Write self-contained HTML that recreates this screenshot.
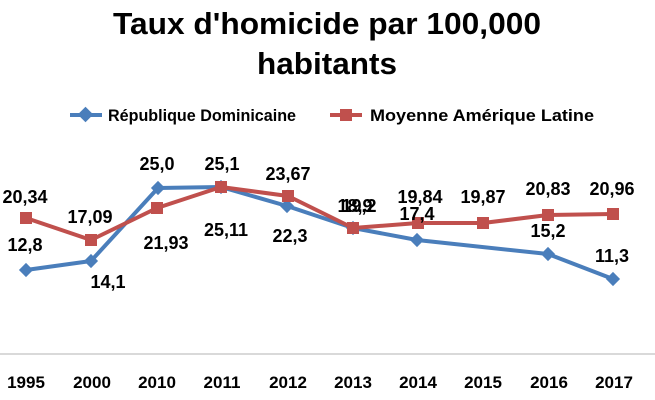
<!DOCTYPE html>
<html><head><meta charset="utf-8"><style>
body{margin:0;background:#fff}
svg{display:block}
text{font-family:"Liberation Sans",sans-serif;font-weight:bold;fill:#000}
</style></head><body>
<svg width="655" height="400" viewBox="0 0 655 400">
<text x="327" y="34" font-size="31" text-anchor="middle" textLength="428" lengthAdjust="spacingAndGlyphs">Taux d'homicide par 100,000</text>
<text x="327" y="74" font-size="31" text-anchor="middle" textLength="140" lengthAdjust="spacingAndGlyphs">habitants</text>
<line x1="70" y1="115" x2="102" y2="115" stroke="#4a7ebb" stroke-width="4"/>
<rect x="80" y="109" width="11" height="11" fill="#4a7ebb" transform="rotate(45 85.5 114.5)"/>
<text x="108" y="121" font-size="16.5" textLength="188" lengthAdjust="spacingAndGlyphs">République Dominicaine</text>
<line x1="330" y1="115" x2="362" y2="115" stroke="#c0504d" stroke-width="4"/>
<rect x="340" y="109" width="12" height="12" fill="#c0504d"/>
<text x="370" y="121" font-size="16.5" textLength="224" lengthAdjust="spacingAndGlyphs">Moyenne Amérique Latine</text>
<line x1="0" y1="354" x2="655" y2="354" stroke="#d9d9d9" stroke-width="2"/>
<g font-size="17" text-anchor="middle">
<text x="26" y="388">1995</text><text x="92" y="388">2000</text><text x="157" y="388">2010</text><text x="222" y="388">2011</text><text x="288" y="388">2012</text><text x="353" y="388">2013</text><text x="418" y="388">2014</text><text x="483" y="388">2015</text><text x="549" y="388">2016</text><text x="614" y="388">2017</text>
</g>
<polyline fill="none" stroke="#4a7ebb" stroke-width="4" stroke-linejoin="round" points="26,270 91,261 158,188 221,187 287,206 353,228 417,240 548,254 613,279"/>
<g fill="#4a7ebb">
<rect x="21" y="265" width="10" height="10" transform="rotate(45 26 270)"/>
<rect x="86" y="256" width="10" height="10" transform="rotate(45 91 261)"/>
<rect x="153" y="183" width="10" height="10" transform="rotate(45 158 188)"/>
<rect x="216" y="182" width="10" height="10" transform="rotate(45 221 187)"/>
<rect x="282" y="201" width="10" height="10" transform="rotate(45 287 206)"/>
<rect x="348" y="223" width="10" height="10" transform="rotate(45 353 228)"/>
<rect x="412" y="235" width="10" height="10" transform="rotate(45 417 240)"/>
<rect x="543" y="249" width="10" height="10" transform="rotate(45 548 254)"/>
<rect x="608" y="274" width="10" height="10" transform="rotate(45 613 279)"/>
</g>
<polyline fill="none" stroke="#c0504d" stroke-width="4" stroke-linejoin="round" points="26,218 91,240 157,208 221,187 288,196 353,228 418,223 483,223 548,215 613,214"/>
<g fill="#c0504d">
<rect x="20" y="212" width="12" height="12"/><rect x="85" y="234" width="12" height="12"/><rect x="151" y="202" width="12" height="12"/><rect x="215" y="181" width="12" height="12"/><rect x="282" y="190" width="12" height="12"/><rect x="347" y="222" width="12" height="12"/><rect x="412" y="217" width="12" height="12"/><rect x="477" y="217" width="12" height="12"/><rect x="542" y="209" width="12" height="12"/><rect x="607" y="208" width="12" height="12"/>
</g>
<g font-size="18" text-anchor="middle">
<text x="25" y="203">20,34</text><text x="25" y="251">12,8</text>
<text x="90" y="223">17,09</text><text x="108" y="288">14,1</text>
<text x="157" y="170">25,0</text><text x="166" y="249">21,93</text>
<text x="222" y="170">25,1</text><text x="226" y="236">25,11</text>
<text x="288" y="180">23,67</text><text x="290" y="242">22,3</text>
<text x="355" y="212">18,9</text><text x="359" y="212">19,2</text>
<text x="420" y="203">19,84</text><text x="417" y="220">17,4</text>
<text x="483" y="203">19,87</text>
<text x="548" y="195">20,83</text><text x="548" y="237">15,2</text>
<text x="612" y="195">20,96</text><text x="612" y="262">11,3</text>
</g>
</svg>
</body></html>
